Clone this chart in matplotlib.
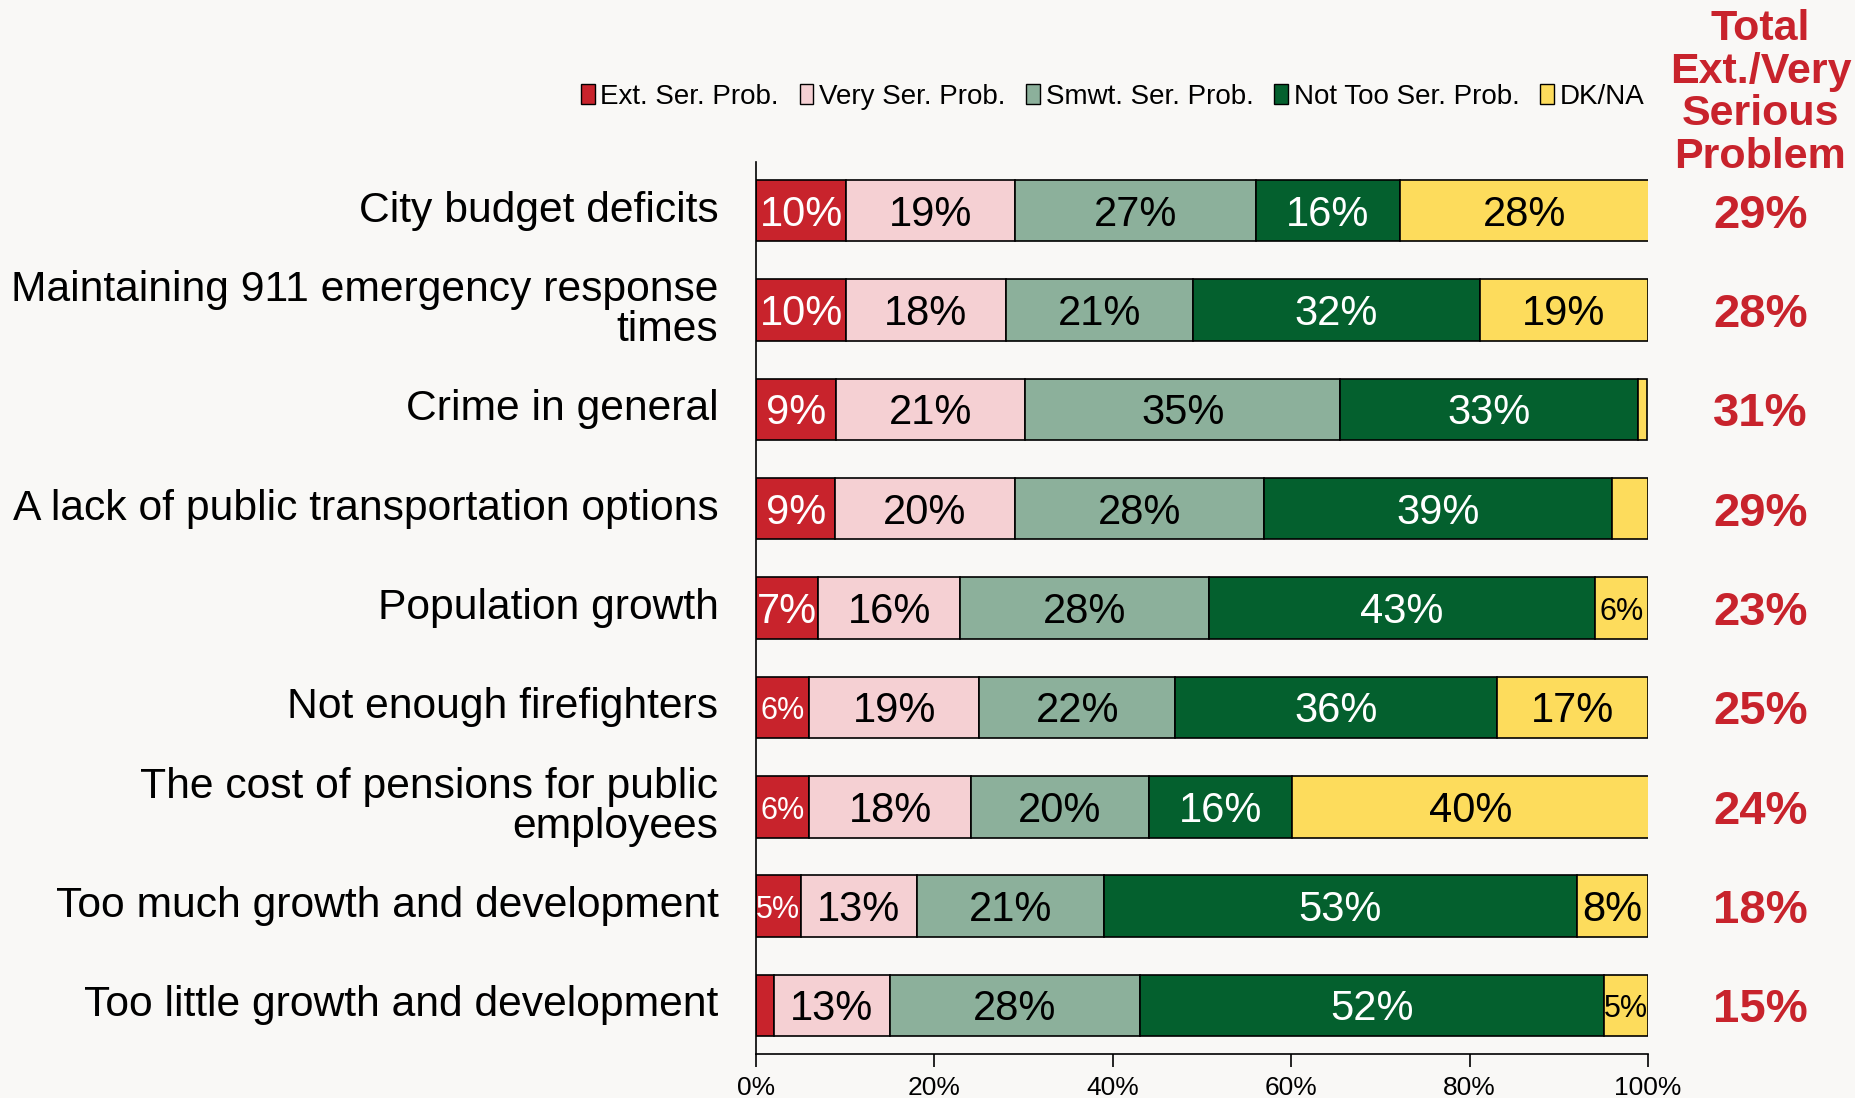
import matplotlib
matplotlib.use("Agg")
import numpy as np
import matplotlib.pyplot as plt
from matplotlib.patches import Patch

plt.rcParams["font.family"] = ["Liberation Sans", "DejaVu Sans"]

# ─── Datos ────────────────────────────────────────────────────────────────────
categories = [
    "City budget deficits",
    "Maintaining 911 emergency response\ntimes",
    "Crime in general",
    "A lack of public transportation options",
    "Population growth",
    "Not enough firefighters",
    "The cost of pensions for public\nemployees",
    "Too much growth and development",
    "Too little growth and development",
]
series = ["Ext. Ser. Prob.", "Very Ser. Prob.", "Smwt. Ser. Prob.",
          "Not Too Ser. Prob.", "DK/NA"]
ext_ser = [10.1, 10.1, 9.0, 8.9, 7.0, 6.0, 6.0, 5.0, 2.0]
very_ser = [18.9, 17.9, 21.2, 20.1, 15.9, 19.0, 18.1, 13.0, 13.0]
smwt_ser = [27.0, 21.0, 35.3, 28.0, 27.9, 22.0, 19.9, 21.0, 28.0]
not_too = [16.2, 32.1, 33.4, 39.0, 43.2, 36.1, 16.1, 53.0, 52.1]
dk_na = [27.9, 18.9, 1.0, 4.0, 6.0, 16.9, 40.0, 8.0, 4.9]
totals = [29, 28, 31, 29, 23, 25, 24, 18, 15]

COLORS = ["#C8232C", "#F5D0D3", "#8CB09B", "#04602E", "#FDDC5C"]
TEXT_COLORS = ["white", "black", "black", "white", "black"]
RED = "#C8232C"
BG = "#F9F8F6"

fig = plt.figure(figsize=(18.56, 10.98), dpi=100, facecolor=BG)
ax = fig.add_axes([0.4073, 0.040, 0.4807, 0.8125], facecolor=BG)

values = [ext_ser, very_ser, smwt_ser, not_too, dk_na]
y = np.arange(len(categories))
left = np.zeros(len(categories))
for vals, color, tcolor in zip(values, COLORS, TEXT_COLORS):
    vals = np.array(vals)
    ax.barh(y, vals, left=left, height=0.62, color=color,
            edgecolor="black", linewidth=1.2)
    for yi, (l, v) in enumerate(zip(left, vals)):
        if v >= 4.5:
            fs = 22 if v < 6.5 else 30
            ax.text(l + v / 2, yi + 0.04, f"{round(v):.0f}%", ha="center",
                    va="center", fontsize=fs, color=tcolor)
    left += vals

ax.set_xlim(0, 100)
ax.set_ylim(len(categories) - 0.51, -0.49)
ax.set_xticks(np.arange(0, 101, 20))
ax.set_xticklabels([f"{t}%" for t in range(0, 101, 20)], fontsize=19)
ax.set_yticks([])
ax.tick_params(axis="x", direction="out", length=9, width=1.2, pad=7)
for s in ["top", "right"]:
    ax.spines[s].set_visible(False)
for s in ["left", "bottom"]:
    ax.spines[s].set_linewidth(1.2)

# etiquetas de categoría
for yi, cat in enumerate(categories):
    ax.text(-4.2, yi, cat, ha="right", va="center", fontsize=30.7,
            linespacing=0.99)

# columna de totales
tx = 112.6
for yi, t in enumerate(totals):
    ax.text(tx, yi + 0.05, f"{t}%", ha="center", va="center", fontsize=34,
            fontweight="bold", color=RED, clip_on=False)
fig.text(0.9485, 0.992, "Total\nExt./Very\nSerious\nProblem", ha="center",
         va="top", fontsize=31, fontweight="bold", color=RED, linespacing=1.09)

handles = [Patch(facecolor=c, edgecolor="black", linewidth=1.0, label=s)
           for c, s in zip(COLORS, series)]
fig.legend(handles=handles, loc="center", bbox_to_anchor=(0.5995, 0.912),
           ncol=5, frameon=False, fontsize=20, handlelength=0.5,
           handleheight=0.7, handletextpad=0.2, columnspacing=0.75)

fig.savefig("out.png", dpi=100, facecolor=BG)
